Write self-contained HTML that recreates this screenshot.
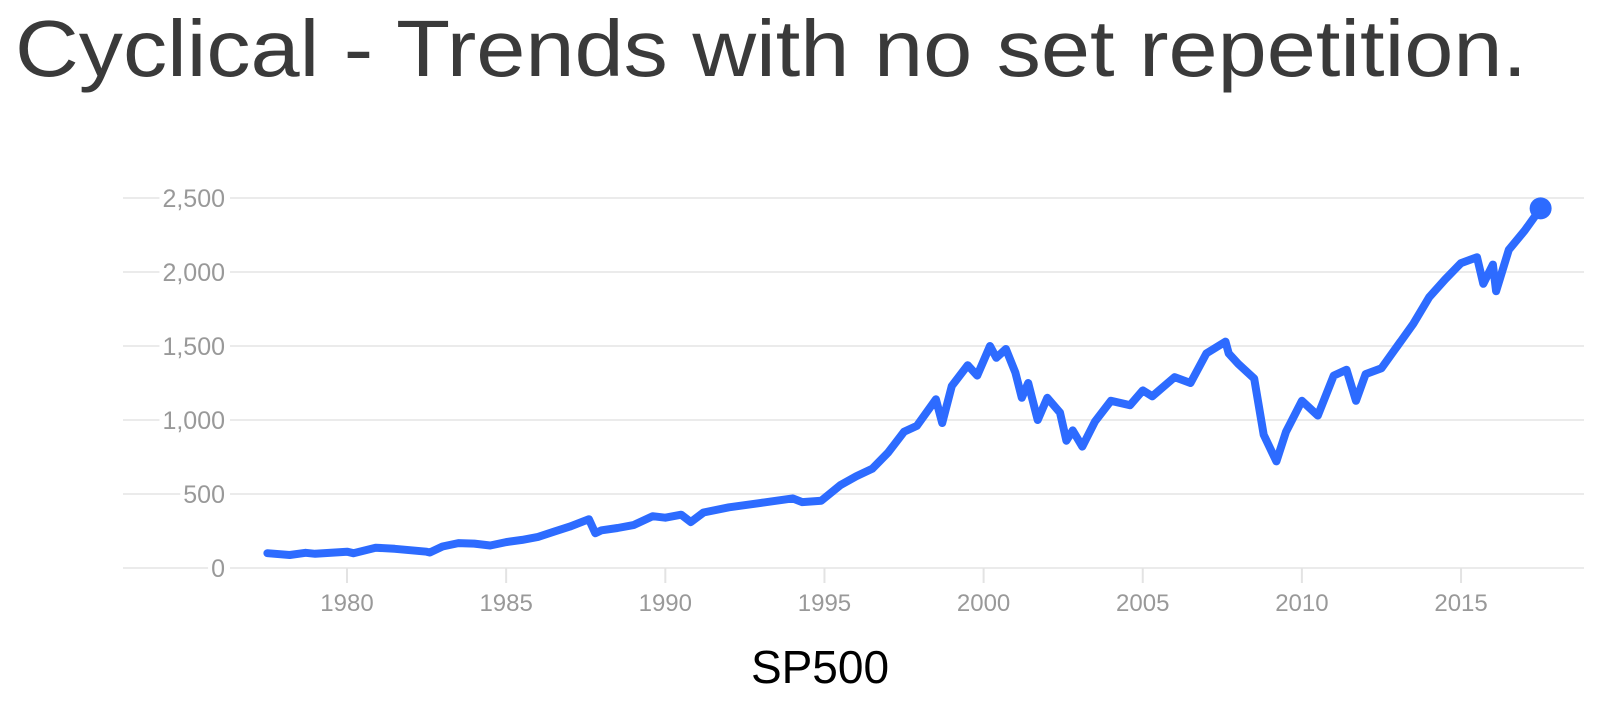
<!DOCTYPE html>
<html><head><meta charset="utf-8"><style>
html,body{margin:0;padding:0;background:#fff;}
svg{display:block;font-family:"Liberation Sans",sans-serif;}
</style></head><body>
<svg id="c" width="1618" height="718" viewBox="0 0 1618 718">
<text x="15" y="76" font-size="80" fill="#3a3a3a" textLength="1512" lengthAdjust="spacingAndGlyphs">Cyclical - Trends with no set repetition.</text>
<g id="grid"></g>
<g id="yl"></g>
<g id="xl"></g>
<path id="line" fill="none" stroke="#2d6bff" stroke-width="8" stroke-linejoin="round" stroke-linecap="round"></path>
<circle id="dot" r="11" fill="#2d6bff"></circle>
<text x="820" y="683" font-size="46" text-anchor="middle" fill="#000">SP500</text>
</svg>
<script>
const years=[1977.5,1978.2,1978.7,1979,1980,1980.2,1980.9,1981.5,1982.5,1982.6,1983,1983.5,1984,1984.5,1985,1985.5,1986,1986.5,1987,1987.6,1987.8,1988,1988.5,1989,1989.6,1990,1990.5,1990.8,1991.2,1992,1993,1994,1994.3,1994.9,1995.5,1996,1996.5,1997,1997.5,1997.9,1998.5,1998.7,1999,1999.5,1999.8,2000.2,2000.4,2000.7,2001,2001.2,2001.4,2001.7,2002,2002.4,2002.6,2002.8,2003.1,2003.5,2004,2004.6,2005,2005.3,2006,2006.5,2007,2007.6,2007.7,2008,2008.5,2008.8,2009.2,2009.5,2010,2010.5,2011,2011.4,2011.7,2012,2012.5,2013,2013.5,2014,2014.5,2015,2015.5,2015.7,2016,2016.1,2016.5,2017,2017.5];
const values=[100,88,103,96,110,100,137,130,110,105,145,168,165,152,175,190,210,245,280,330,235,255,270,290,350,340,360,310,375,410,440,470,445,455,560,620,670,780,920,960,1140,980,1230,1370,1300,1500,1420,1480,1320,1150,1250,1000,1150,1050,860,930,820,990,1130,1100,1200,1160,1290,1250,1450,1530,1450,1380,1280,900,720,920,1130,1030,1300,1340,1130,1310,1350,1500,1650,1830,1950,2060,2100,1920,2050,1870,2150,2280,2430];
const yTicks=[0,500,1000,1500,2000,2500];
const yTickLabels=["0","500","1,000","1,500","2,000","2,500"];
const xTicks=[1980,1985,1990,1995,2000,2005,2010,2015];
const xTickLabels=["1980","1985","1990","1995","2000","2005","2010","2015"];
const NS="http://www.w3.org/2000/svg";
const X=y=>347+(y-1980)*31.83;
const Y=v=>568-v*(370/2500);
const grid=document.getElementById('grid'),yl=document.getElementById('yl'),xl=document.getElementById('xl');
yTicks.forEach((t,i)=>{
  const l=document.createElementNS(NS,'line');
  
  
  l.setAttribute('x1',123);l.setAttribute('x2',1584);l.setAttribute('y1',Y(t));l.setAttribute('y2',Y(t));
  l.setAttribute('stroke','#ebebeb');l.setAttribute('stroke-width',2);
  grid.appendChild(l);
  const bg=document.createElementNS(NS,'rect');
  
  
  bg.setAttribute('fill','#fff');
  yl.appendChild(bg);
  const tx=document.createElementNS(NS,'text');
  
  
  tx.setAttribute('x',225);tx.setAttribute('y',Y(t)+9);tx.setAttribute('text-anchor','end');
  tx.setAttribute('font-size',25);tx.setAttribute('fill','#999');
  tx.textContent=yTickLabels[i];
  yl.appendChild(tx);
  const bb=tx.getBBox();
  bg.setAttribute('x',bb.x-3);bg.setAttribute('y',Y(t)-14);bg.setAttribute('width',bb.width+8);bg.setAttribute('height',28);
});
xTicks.forEach((t,i)=>{
  const l=document.createElementNS(NS,'line');
  
  
  l.setAttribute('x1',X(t));l.setAttribute('x2',X(t));l.setAttribute('y1',568);l.setAttribute('y2',583);
  l.setAttribute('stroke','#e3e3e3');l.setAttribute('stroke-width',2);
  xl.appendChild(l);
  const tx=document.createElementNS(NS,'text');
  
  
  tx.setAttribute('x',X(t));tx.setAttribute('y',611);tx.setAttribute('text-anchor','middle');
  tx.setAttribute('font-size',24);tx.setAttribute('fill','#999');
  tx.textContent=xTickLabels[i];
  xl.appendChild(tx);
});
let d='';
years.forEach((y,i)=>{d+=(i?'L':'M')+X(y).toFixed(1)+' '+Y(values[i]).toFixed(1);});
document.getElementById('line').setAttribute('d',d);
const dot=document.getElementById('dot');
dot.setAttribute('cx',X(years[years.length-1]));dot.setAttribute('cy',Y(values[values.length-1]));
</script>
</body></html>
